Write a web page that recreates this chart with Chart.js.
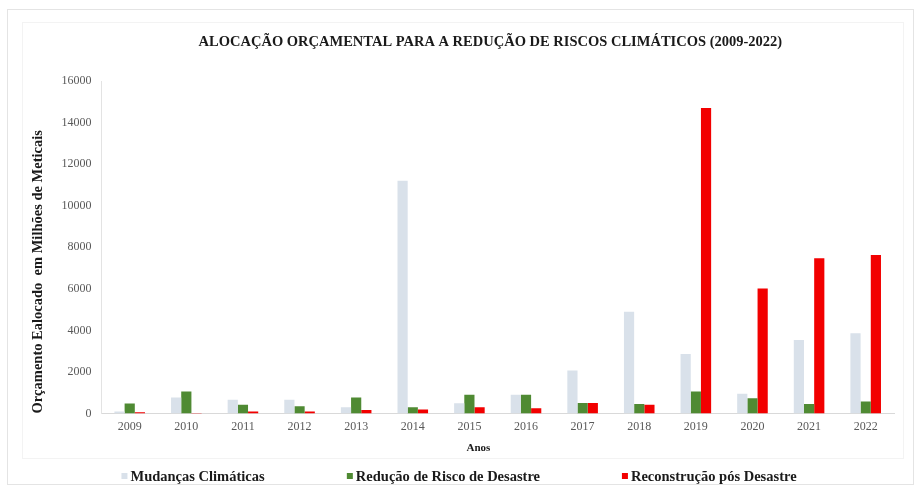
<!DOCTYPE html>
<html>
<head>
<meta charset="utf-8">
<script src="https://cdn.jsdelivr.net/npm/chart.js@4/dist/chart.umd.min.js"></script>
<style>
  html, body { margin: 0; padding: 0; background: #fff; }
  #wrap { width: 920px; height: 489px; position: relative; }
  #frame { position: absolute; left: 7px; top: 9px; right: 6px; bottom: 4px; border: 1px solid #e4e4e4; }
  #inner { position: absolute; left: 22px; top: 22px; right: 16px; bottom: 30px; border: 1px solid #f3f3f3; }
  canvas { position: absolute; left: 0; top: 0; }
</style>
</head>
<body>
<div id="wrap">
  <div id="frame"></div>
  <div id="inner"></div>
  <canvas id="chartBar" width="920" height="489"></canvas>
</div>
<script>
const anos = ['2009','2010','2011','2012','2013','2014','2015','2016','2017','2018','2019','2020','2021','2022'];
const mudancasClimaticas = [100, 770, 670, 670, 300, 11200, 500, 910, 2070, 4900, 2870, 950, 3540, 3860];
const reducaoRisco = [480, 1060, 430, 350, 770, 300, 910, 910, 510, 460, 1060, 740, 460, 580];
const reconstrucao = [60, 30, 100, 100, 170, 200, 300, 260, 510, 420, 14700, 6020, 7470, 7630];
const yTicks = [0, 2000, 4000, 6000, 8000, 10000, 12000, 14000, 16000];

const tituloGrafico = 'ALOCAÇÃO ORÇAMENTAL PARA A REDUÇÃO DE RISCOS CLIMÁTICOS (2009-2022)';
const tituloEixoX = 'Anos';
const tituloEixoY = 'Orçamento Ealocado  em Milhões de Meticais';

const serif = "'Liberation Serif', 'Times New Roman', serif";
const tickColor = '#595959';
const textColor = '#1a1a1a';

// title, x-axis caption and a legend spread across the bottom
const legendSlots = [0.132, 0.377, 0.676];
const decor = {
  id: 'decor',
  afterDraw(chart) {
    const c = chart.ctx;
    c.save();
    c.fillStyle = textColor;
    c.textBaseline = 'middle';
    c.textAlign = 'center';
    c.font = `bold 14.5px ${serif}`;
    c.fillText(tituloGrafico, chart.width * 0.533, 42);
    c.font = `bold 11px ${serif}`;
    c.fillText(tituloEixoX, chart.width * 0.52, 448);

    c.textAlign = 'left';
    c.font = `bold 14.5px ${serif}`;
    const y = 476;
    chart.data.datasets.forEach((ds, i) => {
      const x = chart.width * legendSlots[i];
      c.fillStyle = ds.backgroundColor;
      c.fillRect(x, y - 3, 6, 6);
      c.fillStyle = textColor;
      c.fillText(ds.label, x + 9, y + 1);
    });
    c.restore();
  }
};

const ctx = document.getElementById('chartBar').getContext('2d');
new Chart(ctx, {
  type: 'bar',
  data: {
    labels: anos,
    datasets: [
      { label: 'Mudanças Climáticas', data: mudancasClimaticas, backgroundColor: '#d9e1ea' },
      { label: 'Redução de Risco de Desastre', data: reducaoRisco, backgroundColor: '#4f8a33' },
      { label: 'Reconstrução pós Desastre', data: reconstrucao, backgroundColor: '#f20000' }
    ]
  },
  plugins: [decor],
  options: {
    responsive: false,
    animation: false,
    datasets: { bar: { categoryPercentage: 0.54, barPercentage: 1 } },
    layout: { padding: { left: 30, right: 26, top: 81, bottom: 49 } },
    plugins: {
      title: { display: false },
      legend: { display: false },
      tooltip: { enabled: false }
    },
    scales: {
      x: {
        grid: { display: false, drawTicks: false },
        border: { color: '#d9d9d9' },
        ticks: { color: tickColor, font: { family: serif, size: 12 }, padding: 6 }
      },
      y: {
        min: 0,
        max: 16000,
        afterBuildTicks: axis => { axis.ticks = yTicks.map(v => ({ value: v })); },
        grid: { display: false, drawTicks: false },
        border: { color: '#e3e3e3' },
        ticks: { color: tickColor, font: { family: serif, size: 12 }, padding: 10, callback: v => String(v) },
        title: {
          display: true, text: tituloEixoY, color: textColor, align: 'start',
          font: { family: serif, size: 14.5, weight: 'bold' },
          padding: { top: 0, bottom: 4 }
        }
      }
    }
  }
});
</script>
</body>
</html>
